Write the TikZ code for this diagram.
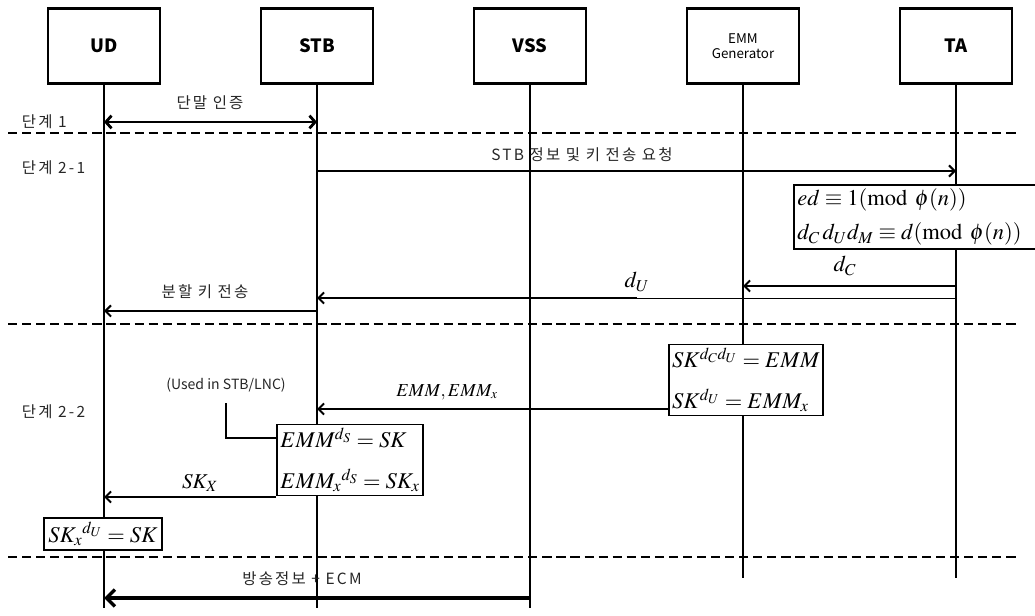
\documentclass[tikz,border=0pt]{standalone}
\usepackage{mathptmx}
\usepackage[no-math]{fontspec}
\setsansfont{Noto Sans CJK KR}
\usetikzlibrary{arrows.meta}

\begin{document}
\begin{tikzpicture}[
  x=0.025cm,y=-0.025cm,
  actor/.style={draw,line width=1.5pt,minimum width=2.8cm,minimum height=1.875cm,align=center,
    font=\sffamily\bfseries\fontsize{13}{15}\selectfont},
  life/.style={line width=1.5pt},
  phase/.style={line width=1.4pt,dash pattern=on 6.5pt off 3.5pt},
  msg/.style={line width=1.4pt,-{Straight Barb[length=4pt,width=8pt,line width=1.4pt]}},
  lbl/.style={font=\sffamily\fontsize{11}{13}\selectfont\addfontfeature{LetterSpace=14},text=black!85},
  calc/.style={draw,line width=1.3pt,fill=white,align=left,inner sep=2.5pt,
    font=\fontsize{16}{29}\selectfont}
]
  \useasboundingbox (0,0) rectangle (1035,616);
  \clip (0,0) rectangle (1035,616);

  % actors
  \node[actor] (ud) at (104,46) {UD};
  \node[actor] (stb) at (317,46) {STB};
  \node[actor] (vss) at (530,46) {VSS};
  \node[actor,font=\sffamily\fontsize{9.5}{11}\selectfont] (emm) at (743,46) {EMM\\Generator};
  \node[actor] (ta) at (956,46) {TA};

  % rows
  \coordinate (bot) at (0,608);
  \coordinate (botshort) at (0,578);
  \coordinate (r-auth) at (0,122);
  \coordinate (r-req) at (0,171);
  \coordinate (r-dc) at (0,286);
  \coordinate (r-du) at (0,298);
  \coordinate (r-split) at (0,311);
  \coordinate (r-emm) at (0,409);
  \coordinate (r-used) at (0,438);
  \coordinate (r-skx) at (0,497);
  \coordinate (r-ecm) at (0,598);
  \coordinate (du-split) at (637,298);

  % lifelines
  \draw[life] (ud) -- (ud |- bot);
  \draw[life] (stb) -- (stb |- bot);
  \draw[life] (vss) -- (vss |- bot);
  \draw[life] (emm) -- (emm |- botshort);
  \draw[life] (ta) -- (ta |- botshort);

  % phase separators
  \coordinate (sep1) at (8,133);
  \coordinate (sep2) at (8,324);
  \coordinate (sep3) at (8,557);
  \draw[phase] (sep1) -- ++(1012,0);
  \draw[phase] (sep2) -- ++(1012,0);
  \draw[phase] (sep3) -- ++(1012,0);

  \node[lbl,anchor=west] (p1) at (17,122) {단계 1};
  \node[lbl,anchor=west] (p21) at (17,168) {단계 2-1};
  \node[lbl,anchor=west] (p22) at (17,412) {단계 2-2};

  % computations
  \node[calc,anchor=north west,text width=6.1cm,font=\fontsize{16}{24.5}\selectfont] (keys) at (793,184)
    {$ed \equiv 1(\mathrm{mod}\ \phi(n))$\\$d_C\,d_U d_M \equiv d(\mathrm{mod}\ \phi(n))$};
  \node[calc] (gen) at (746,380) {$SK^{d_C d_U} = EMM$\\$SK^{d_U} = EMM_x$};
  \node[calc] (dec) at (350,460) {$EMM^{d_S} = SK$\\$EMM_x{}^{d_S} = SK_x$};
  \node[calc,inner sep=3pt] (fin) at (103,534) {$SK_x{}^{d_U} = SK$};

  % messages
  \draw[line width=2pt,{Straight Barb[length=4pt,width=9pt,line width=2pt]}-{Straight Barb[length=4pt,width=9pt,line width=2pt]}]
    (ud |- r-auth) -- (stb |- r-auth);
  \node[lbl] (auth) at (210,103) {단말 인증};

  \draw[msg,line width=1pt] (stb |- r-req) -- (ta |- r-req);
  \node[lbl] (req) at (582,155) {STB 정보 및 키 전송 요청};

  \draw[msg] (ta |- r-dc) -- (emm |- r-dc);
  \node[font=\fontsize{16}{18}\selectfont] (dc) at (845,266) {$d_C$};

  \draw[line width=0.6pt] (ta |- r-du) -- (du-split);
  \draw[msg] (du-split) -- (stb |- r-du);
  \node[font=\fontsize{16}{18}\selectfont] (du) at (637,282) {$d_U$};

  \draw[msg] (stb |- r-split) -- (ud |- r-split);
  \node[lbl] (split) at (205,292) {분할 키 전송};

  \draw[msg] (gen.west |- r-emm) -- (stb |- r-emm);
  \node[font=\fontsize{13}{15}\selectfont] (emmlbl) at (447,392) {$EMM, EMM_x$};

  \node[lbl,font=\sffamily\fontsize{10}{12}\selectfont] (used) at (226,385) {(Used in STB/LNC)};
  \draw[line width=1.4pt] (used.south) ++(0,6) |- (dec.west |- r-used);

  \draw[msg] (dec.west |- r-skx) -- (ud |- r-skx);
  \node[font=\fontsize{15}{17}\selectfont] (skx) at (200,483) {$SK_X$};

  \draw[line width=2.4pt,-{Straight Barb[length=6pt,width=12pt,line width=2.4pt]}]
    (vss |- r-ecm) -- (ud |- r-ecm);
  \node[lbl] (ecm) at (302,579) {방송정보 + ECM};
\end{tikzpicture}
\end{document}
